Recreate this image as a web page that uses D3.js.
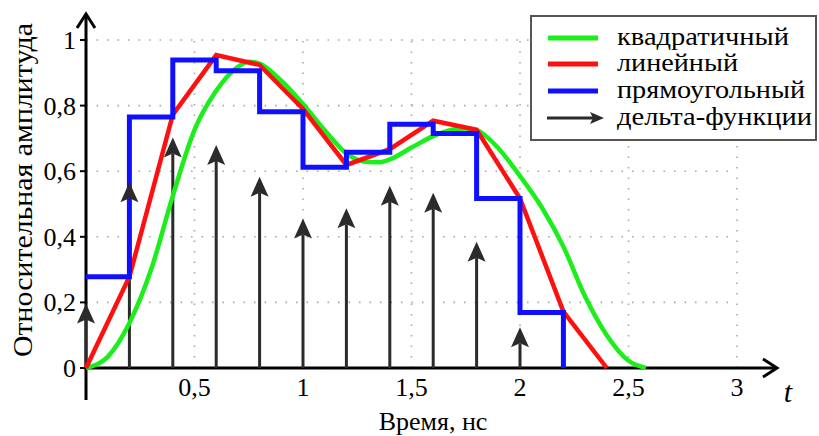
<!DOCTYPE html>
<html>
<head>
<meta charset="utf-8">
<script src="https://cdn.jsdelivr.net/npm/d3@7"></script>
</head>
<body style="margin:0">
<script>
// Time axis, ns
const xTicks = [0.5, 1, 1.5, 2, 2.5, 3];
const xTickLabels = ["0,5", "1", "1,5", "2", "2,5", "3"];
const yTicks = [0, 0.2, 0.4, 0.6, 0.8, 1];
const yTickLabels = ["0", "0,2", "0,4", "0,6", "0,8", "1"];

// Delta-function impulses
const deltaT = [0, 0.2, 0.4, 0.6, 0.8, 1.0, 1.2, 1.4, 1.6, 1.8, 2.0];
const deltaAmp = [0.197, 0.566, 0.703, 0.68, 0.583, 0.456, 0.487, 0.556, 0.534, 0.385, 0.124];

// Rectangular (zero-order) pulse levels, each held for 0.2 ns
const rectT = [0, 0.2, 0.4, 0.6, 0.8, 1.0, 1.2, 1.4, 1.6, 1.8, 2.0];
const rectV = [0.278, 0.765, 0.939, 0.906, 0.781, 0.612, 0.658, 0.743, 0.715, 0.517, 0.169];
const rectEnd = 2.2;

// Linear pulse vertices
const linT = [0, 0.2, 0.4, 0.6, 0.8, 1.0, 1.2, 1.4, 1.6, 1.8, 2.0, 2.2, 2.4];
const linV = [0, 0.278, 0.772, 0.954, 0.924, 0.79, 0.619, 0.667, 0.754, 0.726, 0.517, 0.172, 0];

// Quadratic pulse samples
const quadT = [0, 0.1, 0.2, 0.3, 0.4, 0.5, 0.6, 0.7, 0.75, 0.8, 0.9, 1.0, 1.1, 1.2, 1.3, 1.35, 1.4, 1.5, 1.6, 1.7, 1.75, 1.8, 1.9, 2.0, 2.1, 2.2, 2.3, 2.4, 2.5, 2.58];
const quadV = [0, 0.034, 0.137, 0.30, 0.525, 0.726, 0.845, 0.918, 0.934, 0.928, 0.876, 0.805, 0.725, 0.654, 0.628, 0.627, 0.636, 0.672, 0.707, 0.728, 0.73, 0.725, 0.67, 0.585, 0.49, 0.37, 0.218, 0.10, 0.022, 0];

const legendLabels = ["квадратичный", "линейный", "прямоугольный", "дельта-функции"];
const legendKinds = ["quad", "lin", "rect", "delta"];
const legendWidths = [172, 121, 188, 195];

const colors = { quad: "#1bee1b", lin: "#ff1010", rect: "#1010ff", delta: "#2b2b2b" };

const svg = d3.select("body").append("svg")
  .attr("width", 819).attr("height", 436)
  .style("font-family", '"Liberation Serif"')
  .style("background", "#fff");
const x = d3.scaleLinear().domain([0, 3]).range([86, 737]);
const y = d3.scaleLinear().domain([0, 1]).range([368, 40]);

// Dotted grid
const grid = svg.append("g").attr("stroke", "#a8a8a8").attr("stroke-width", 1.6)
  .attr("stroke-dasharray", "1.6,8.9");
grid.selectAll("line.h").data(yTicks.filter(d => d > 0)).join("line")
  .attr("x1", x(0)).attr("x2", x(3)).attr("y1", d => y(d)).attr("y2", d => y(d));
grid.selectAll("line.v").data(xTicks).join("line")
  .attr("x1", d => x(d)).attr("x2", d => x(d)).attr("y1", y(0)).attr("y2", y(1));

// Axes
const axes = svg.append("g").attr("stroke", "#000").attr("fill", "none")
  .attr("stroke-width", 3).attr("stroke-linecap", "butt");
axes.append("line").attr("x1", x(0)).attr("x2", x(0)).attr("y1", 400).attr("y2", 14);
axes.append("path").attr("d", `M${x(0) - 9},${28} L${x(0)},${14} L${x(0) + 9},${28}`)
  .attr("stroke-linejoin", "miter");
axes.append("line").attr("x1", x(0) - 2).attr("x2", 777).attr("y1", y(0)).attr("y2", y(0));
axes.append("path").attr("d", `M${763},${y(0) - 9} L${777},${y(0)} L${763},${y(0) + 9}`)
  .attr("stroke-linejoin", "miter");
axes.selectAll("line.tick").data(yTicks).join("line")
  .attr("stroke-width", 2)
  .attr("x1", x(0) - 6).attr("x2", x(0)).attr("y1", d => y(d)).attr("y2", d => y(d));

// Tick labels
svg.selectAll("text.ytick").data(yTicks).join("text")
  .style("font-family", '"Liberation Serif"')
  .attr("x", 76).attr("y", d => y(d) + 9)
  .attr("text-anchor", "end").attr("font-size", 26)
  .text((d, i) => yTickLabels[i]);
svg.selectAll("text.xtick").data(xTicks).join("text")
  .style("font-family", '"Liberation Serif"')
  .attr("x", d => x(d)).attr("y", 396)
  .attr("text-anchor", "middle").attr("font-size", 26)
  .text((d, i) => xTickLabels[i]);

// Axis titles
svg.append("text").style("font-family", '"Liberation Serif"')
  .attr("x", 433).attr("y", 430).attr("text-anchor", "middle")
  .attr("font-size", 26).text("Время, нс");
svg.append("text").style("font-family", '"Liberation Serif"')
  .attr("transform", "translate(32,190) rotate(-90)")
  .attr("text-anchor", "middle").attr("font-size", 28)
  .attr("textLength", 334).attr("lengthAdjust", "spacingAndGlyphs")
  .text("Относительная амплитуда");
svg.append("text").style("font-family", '"Liberation Serif"')
  .attr("x", 788).attr("y", 402).attr("text-anchor", "middle")
  .attr("font-size", 30).attr("font-style", "italic").text("t");

// Impulse shafts
const deltas = deltaT.map((t, i) => ({ t, a: deltaAmp[i] }));
const headLen = 20, headW = 9;
svg.append("g").selectAll("line").data(deltas).join("line")
  .attr("stroke", colors.delta).attr("stroke-width", 3)
  .attr("x1", d => x(d.t)).attr("x2", d => x(d.t))
  .attr("y1", y(0)).attr("y2", d => y(d.a) + headLen - 4);

// Pulse curves
const quad = quadT.map((t, i) => [t, quadV[i]]);
const lin = linT.map((t, i) => [t, linV[i]]);
const rect = rectT.map((t, i) => [t, rectV[i]]);
rect.push([rectEnd, rectV[rectV.length - 1]]);
rect.push([rectEnd, 0]);

svg.append("path").datum(quad)
  .attr("d", d3.line().x(d => x(d[0])).y(d => y(d[1])).curve(d3.curveMonotoneX))
  .attr("fill", "none").attr("stroke", colors.quad).attr("stroke-width", 4.5);
svg.append("path").datum(lin)
  .attr("d", d3.line().x(d => x(d[0])).y(d => y(d[1])))
  .attr("fill", "none").attr("stroke", colors.lin).attr("stroke-width", 4.5)
  .attr("stroke-linejoin", "miter");
svg.append("path").datum(rect)
  .attr("d", d3.line().x(d => x(d[0])).y(d => y(d[1])).curve(d3.curveStepAfter))
  .attr("fill", "none").attr("stroke", colors.rect).attr("stroke-width", 5)
  .attr("stroke-linejoin", "miter");

// Impulse heads
svg.append("g").selectAll("path").data(deltas).join("path")
  .attr("fill", colors.delta)
  .attr("d", d => {
    const cx = x(d.t), ty = y(d.a);
    return `M${cx},${ty} L${cx + headW},${ty + headLen} L${cx},${ty + headLen - 4} L${cx - headW},${ty + headLen} Z`;
  });

// Legend
svg.append("rect").attr("x", 531).attr("y", 16).attr("width", 285).attr("height", 124)
  .attr("fill", "#fff").attr("stroke", "#555").attr("stroke-width", 2);
const rowsY = [38, 64, 91, 118];
legendKinds.forEach((k, i) => {
  const yy = rowsY[i];
  if (k === "delta") {
    svg.append("line").attr("x1", 547).attr("x2", 594).attr("y1", yy).attr("y2", yy)
      .attr("stroke", colors.delta).attr("stroke-width", 3);
    svg.append("path").attr("fill", colors.delta)
      .attr("d", `M604,${yy} L590,${yy - 6} L593,${yy} L590,${yy + 6} Z`);
  } else {
    svg.append("line").attr("x1", 548).attr("x2", 598).attr("y1", yy).attr("y2", yy)
      .attr("stroke", colors[k]).attr("stroke-width", 5);
  }
});
svg.selectAll("text.legend").data(legendLabels).join("text")
  .style("font-family", '"Liberation Serif"')
  .attr("x", 617).attr("y", (d, i) => rowsY[i] + 7).attr("font-size", 25)
  .attr("textLength", (d, i) => legendWidths[i]).attr("lengthAdjust", "spacingAndGlyphs")
  .text(d => d);
</script>
</body>
</html>
